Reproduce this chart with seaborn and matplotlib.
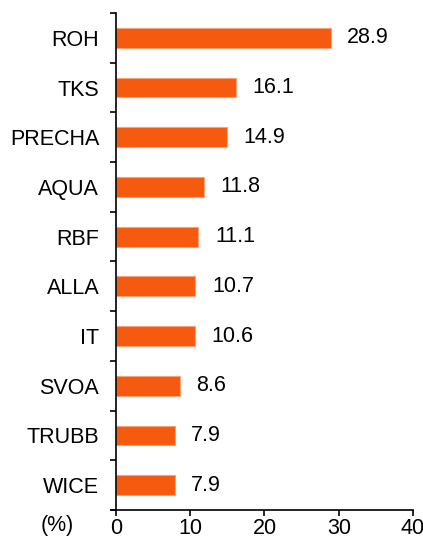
import matplotlib
matplotlib.use("Agg")
import matplotlib.pyplot as plt
import seaborn as sns
import numpy as np
import pandas as pd

categories = ["ROH", "TKS", "PRECHA", "AQUA", "RBF", "ALLA", "IT", "SVOA", "TRUBB", "WICE"]
values = [28.9, 16.1, 14.9, 11.8, 11.1, 10.7, 10.6, 8.6, 7.9, 7.9]
xticks = [0, 10, 20, 30, 40]

sns.set_style("white")
plt.rcParams['font.family'] = ['Liberation Sans', 'DejaVu Sans']
plt.rcParams['text.color'] = 'black'
plt.rcParams['xtick.color'] = 'black'
plt.rcParams['ytick.color'] = 'black'
plt.rcParams['xtick.labelcolor'] = 'black'
plt.rcParams['ytick.labelcolor'] = 'black'

FS = 15.5

df = pd.DataFrame({"cat": categories, "val": values})

fig = plt.figure(figsize=(4.23, 5.39), dpi=100)
ax = fig.add_axes([111/423, 1 - 510/539, (413 - 111)/423, (510 - 13)/539])

sns.barplot(data=df, x="val", y="cat", ax=ax, color="#F55A0F", width=0.4,
            saturation=1, edgecolor="#F8A27A", linewidth=0.8)

ax.set_xlim(-0.67, 40)
ax.set_ylim(9.5, -0.5)
ax.spines['left'].set_position(('data', 0))
ax.spines['right'].set_visible(False)
ax.spines['top'].set_visible(False)
for s in ['left', 'bottom']:
    ax.spines[s].set_color('black')
    ax.spines[s].set_linewidth(1.2)

ax.set_xticks(xticks)
ax.set_xticklabels([str(t) for t in xticks], fontsize=FS)
ax.tick_params(axis='x', direction='out', length=4, width=1.2, color='black', pad=2, bottom=True)

ax.set_yticks(np.arange(-0.5, 10, 1))
ax.set_yticklabels([])
ax.tick_params(axis='y', which='major', direction='out', length=4, width=1.2, color='black', left=True)
ax.set_yticks(np.arange(len(categories)), minor=True)
ax.set_yticklabels(categories, minor=True, fontsize=FS)
ax.tick_params(axis='y', which='minor', length=0, pad=12)

ax.set_xlabel("")
ax.set_ylabel("")

for i, v in enumerate(values):
    ax.annotate(f"{v:.1f}", xy=(v, i), xytext=(12, 0), textcoords='offset points',
                va='center', ha='left', fontsize=FS, color='black')

fig.text(57/423, 1 - 525/539, "(%)", ha='center', va='center', fontsize=FS, color='black')

fig.savefig("out.png", dpi=100)
